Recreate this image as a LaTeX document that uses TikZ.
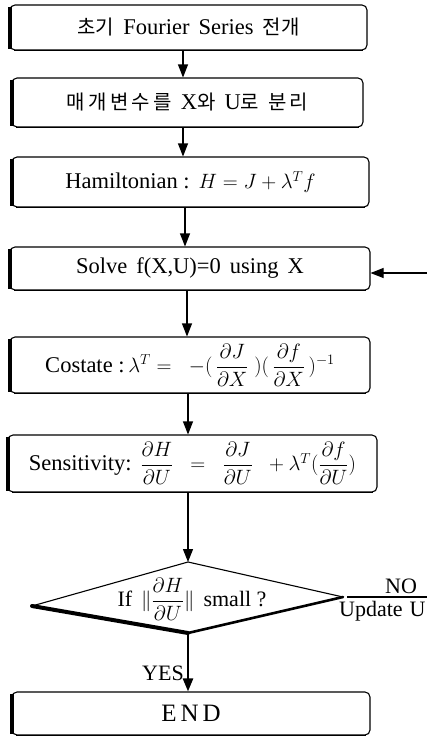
\documentclass[tikz,border=0pt]{standalone}
\usepackage{fontspec}
\setmainfont{Liberation Serif}
\newfontfamily\kr{Noto Sans CJK KR}
\usetikzlibrary{arrows.meta,calc}
\newcommand{\kt}[1]{{\kr\fontsize{20}{22}\selectfont #1}}
\newcommand{\pd}[2]{\mbox{\fontsize{20.5}{22}\selectfont$\displaystyle\frac{\partial #1}{\partial #2}$}}
\newcommand{\gap}{\hspace{9pt}}
\begin{document}
\begin{tikzpicture}[x=1pt,y=-1pt,
  box/.style={draw, line width=1.1pt, rounded corners=5pt, inner sep=0pt,
              font=\fontsize{22.5}{26}\selectfont},
  lbl/.style={inner sep=0pt, font=\fontsize{22}{26}\selectfont},
  arr/.style={draw, line width=1.1pt, -{Triangle[width=10pt,length=13pt]}},
  thickedge/.style={line width=4pt, line cap=butt},
  botedge/.style={line width=1.8pt, line cap=butt}]
\useasboundingbox (0,0) rectangle (427,739);

\node[box, minimum width=357pt, minimum height=45pt] (b1) at (188.5,27.5)
  {\kt{초기}\gap Fourier\gap Series\gap\kt{전개}};
\node[box, minimum width=351pt, minimum height=49pt] (b2) at (187.5,102.5)
  {\kt{매\,개\,변\,수\,를}\gap X\kt{와}\gap U\kt{로}\gap\kt{분\,리}};
\node[box, minimum width=357pt, minimum height=50pt] (b3) at (190.5,182)
  {Hamiltonian~:\gap$H=J+\lambda^{T}f$};
\node[box, minimum width=360pt, minimum height=43pt] (b4) at (190,268.5)
  {Solve\gap f(X,U)=0\gap using\gap X};
\node[box, minimum width=360pt, minimum height=56pt] (b5) at (190,365)
  {Costate~:\,$\lambda^{T}=\;\;-(\,\pd{J}{X}\;)(\,\pd{f}{X}\,)^{-1}$};
\node[box, minimum width=369pt, minimum height=57pt] (b6) at (192.5,463.5)
  {Sensitivity:\gap$\pd{H}{U}\;\;=\;\;\pd{J}{U}\;\;+\lambda^{T}(\pd{f}{U})$};
\node[box, minimum width=358pt, minimum height=43pt, font=\fontsize{25}{28}\selectfont] (b7) at (191,713.5)
  {E\hspace{4pt}N\hspace{4pt}D};

% thick left and bottom edges
\foreach \b in {b1,b2,b3,b4,b5,b6,b7}{
  \draw[thickedge] ($(\b.north west)+(1,3)$) -- ($(\b.south west)+(1,-2)$);
  \draw[botedge] ($(\b.south west)+(5,0)$) -- ($(\b.south east)+(-5,0)$);
}

% decision diamond
\coordinate (dT) at (188,562);
\coordinate (dL) at (32,606);
\coordinate (dR) at (343,597);
\coordinate (dB) at (188,633);
\draw[line width=1.1pt, line join=miter] (dL) -- (dT) -- (dR);
\draw[line width=4pt, line cap=round] (dL) -- (dB);
\draw[line width=2.6pt, line cap=round] (dB) -- (dR);
\node[lbl] (dtext) at (192,599)
  {If\gap$\|\pd{H}{U}\|$\gap small~?};

% vertical arrows
\draw[arr] ([xshift=-5.5pt]b1.south) -- ([xshift=-5.5pt]b1.south |- b2.north);
\draw[arr] ([xshift=-4.5pt]b2.south) -- ([xshift=-4.5pt]b2.south |- b3.north);
\draw[arr] ([xshift=-5.5pt]b3.south) -- ([xshift=-5.5pt]b3.south |- b4.north);
\draw[arr] ([xshift=-3pt]b4.south) -- ([xshift=-3pt]b4.south |- b5.north);
\draw[arr] ([xshift=-2pt]b5.south) -- ([xshift=-2pt]b5.south |- b6.north);
\draw[arr] (dT |- b6.south) -- (dT);
\draw[arr, line width=2.4pt] (dB) -- (dB |- b7.north);

% feedback loop (vertical part lies beyond the right margin)
\coordinate (fbR) at (445,597);
\draw[arr] ($(dR)+(4,0)$) -- (fbR) |- ([yshift=-4.5pt]b4.east);
\node[lbl, anchor=south] (no) at (401,594) {NO};
\node[lbl, anchor=north west] (upd) at (339,601) {Update\hspace{7pt}U};
\node[lbl, anchor=east] (yes) at (184,673) {YES};
\end{tikzpicture}
\end{document}
